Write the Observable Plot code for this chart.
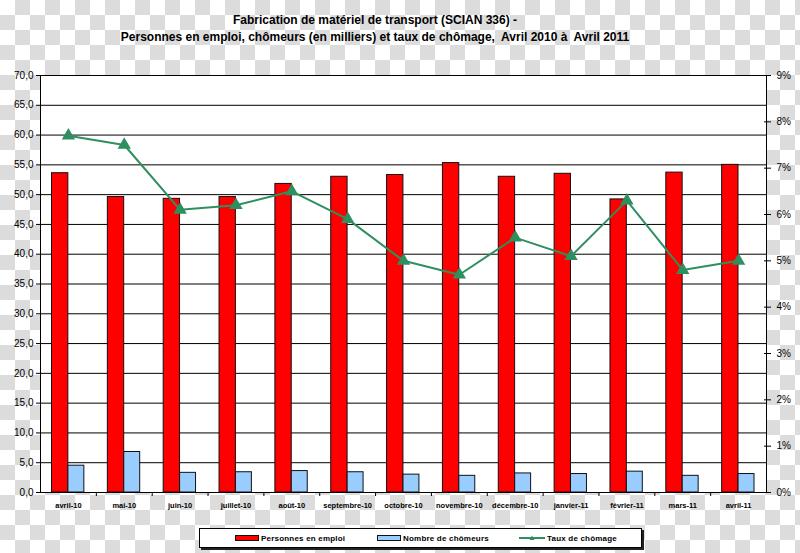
<!DOCTYPE html>
<html>
<head>
<meta charset="utf-8">
<script src="https://cdn.jsdelivr.net/npm/d3@7"></script>
<script src="https://cdn.jsdelivr.net/npm/@observablehq/plot@0.6"></script>
<style>
  html, body { margin: 0; padding: 0; }
  body {
    width: 800px; height: 553px; position: relative; overflow: hidden;
    font-family: "Liberation Sans", Arial, sans-serif;
    background: repeating-conic-gradient(#dcdcdc 0 25%, #ffffff 0 50%) 0 0 / 30px 30px;
  }
  #title {
    position: absolute; left: 0; top: 12px; width: 750px; text-align: center;
    font-weight: bold; font-size: 12px; line-height: 17px; color: #000;
  }
  #chart { position: absolute; left: 0; top: 60px; }
  #legend {
    position: absolute; left: 199px; top: 528px; width: 441px; height: 18px;
    background: #fff; border: 1px solid #000; box-shadow: 2px 2px 0 #222;
    font-weight: bold; font-size: 8px; color: #000; letter-spacing: 0.2px;
  }
  .item { position: absolute; top: 0; height: 18px; display: flex; align-items: center; }
  .item svg { margin-right: 2px; }
</style>
</head>
<body>
<div id="title">Fabrication de matériel de transport (SCIAN 336) -<br>Personnes en emploi, chômeurs (en milliers) et taux de chômage,&nbsp; Avril 2010 à&nbsp; Avril 2011</div>
<div id="chart"></div>
<div id="legend"></div>
<script>
const months = ["avril-10","mai-10","juin-10","juillet-10","août-10","septembre-10","octobre-10","novembre-10","décembre-10","janvier-11","février-11","mars-11","avril-11"];
const emploi = [53.6,49.6,49.3,49.6,51.8,53.0,53.3,55.3,53.0,53.5,49.2,53.7,55.0];
const chomeurs = [4.5,6.8,3.3,3.4,3.6,3.4,3.0,2.8,3.2,3.1,3.5,2.8,3.1];
const taux = [7.7,7.5,6.1,6.2,6.5,5.9,5.0,4.7,5.5,5.1,6.3,4.8,5.0];
const leftTicks = [0,5,10,15,20,25,30,35,40,45,50,55,60,65,70];
const rightTicks = [0,1,2,3,4,5,6,7,8,9];
const seriesNames = ["Personnes en emploi","Nombre de chômeurs","Taux de chômage"];

const RED = "#ff0000", BLUE = "#99ccff", GREEN = "#2e8f5f";
const leftMax = leftTicks[leftTicks.length - 1];
const rightMax = rightTicks[rightTicks.length - 1];
const toLeft = p => p * leftMax / rightMax;

const rows = months.map((m, i) => ({month: m, emploi: emploi[i], chomeurs: chomeurs[i], taux: taux[i]}));

const W = 800, mL = 40, mR = 34;
const band = (W - mL - mR) / months.length;

const chart = Plot.plot({
  width: W, height: 460,
  marginTop: 15, marginBottom: 28, marginLeft: mL, marginRight: mR,
  style: {background: "transparent", fontFamily: "'Liberation Sans', Arial, sans-serif", color: "#000"},
  x: {domain: months, paddingInner: 0, paddingOuter: 0, round: false, label: null, axis: null},
  y: {domain: [0, leftMax], label: null, axis: null},
  marks: [
    Plot.frame({fill: "white"}),
    Plot.gridY(leftTicks, {stroke: "#000", strokeOpacity: 1, strokeWidth: 1}),
    Plot.barY(rows, {x: "month", y: "emploi", fill: RED, stroke: "#111", strokeWidth: 1, insetLeft: 11.5, insetRight: 28}),
    Plot.barY(rows, {x: "month", y: "chomeurs", fill: BLUE, stroke: "#111", strokeWidth: 1, insetLeft: 27.9, insetRight: 12}),
    Plot.line(rows, {x: "month", y: d => toLeft(d.taux), stroke: GREEN, strokeWidth: 2}),
    Plot.dot(rows, {x: "month", y: d => toLeft(d.taux), symbol: "triangle", r: 4, fill: GREEN, stroke: GREEN}),
    Plot.frame({stroke: "#000", strokeWidth: 1}),
    Plot.axisY(leftTicks, {anchor: "left", tickSize: 4, tickPadding: 3, fontSize: 10, label: null,
      tickFormat: d => d.toFixed(1).replace(".", ",")}),
    Plot.axisY(rightTicks.map(toLeft), {anchor: "right", tickSize: 4, tickPadding: 6, fontSize: 10, label: null,
      tickFormat: v => Math.round(v * rightMax / leftMax) + "%"}),
    Plot.axisY(rightTicks.map(toLeft), {anchor: "right", tickSize: -3, tickPadding: 0, label: null, tickFormat: () => ""}),
    Plot.axisX(months, {anchor: "bottom", tickSize: 0, tickPadding: 10, fontSize: 7.5, fontWeight: "bold", label: null}),
    Plot.axisX(months.slice(1), {anchor: "bottom", tickSize: 4, dx: -band / 2, label: null, tickFormat: () => ""})
  ]
});
document.getElementById("chart").appendChild(chart);

// legend
const legend = document.getElementById("legend");
const items = [
  {name: seriesNames[0], left: 35, type: "bar", color: RED},
  {name: seriesNames[1], left: 177, type: "bar", color: BLUE},
  {name: seriesNames[2], left: 319, type: "line", color: GREEN}
];
items.forEach(it => {
  const div = document.createElement("div");
  div.className = "item";
  div.style.left = it.left + "px";
  let sw;
  if (it.type === "bar") {
    sw = `<svg width="24" height="6"><rect x="0.5" y="0.5" width="23" height="5" fill="${it.color}" stroke="#111" stroke-width="1"/></svg>`;
  } else {
    sw = `<svg width="26" height="8"><line x1="0" y1="4" x2="26" y2="4" stroke="${it.color}" stroke-width="2"/><path d="M13,1.5 L15.5,6 L10.5,6 Z" fill="${it.color}"/></svg>`;
  }
  div.innerHTML = sw + `<span>${it.name}</span>`;
  legend.appendChild(div);
});
</script>
</body>
</html>
